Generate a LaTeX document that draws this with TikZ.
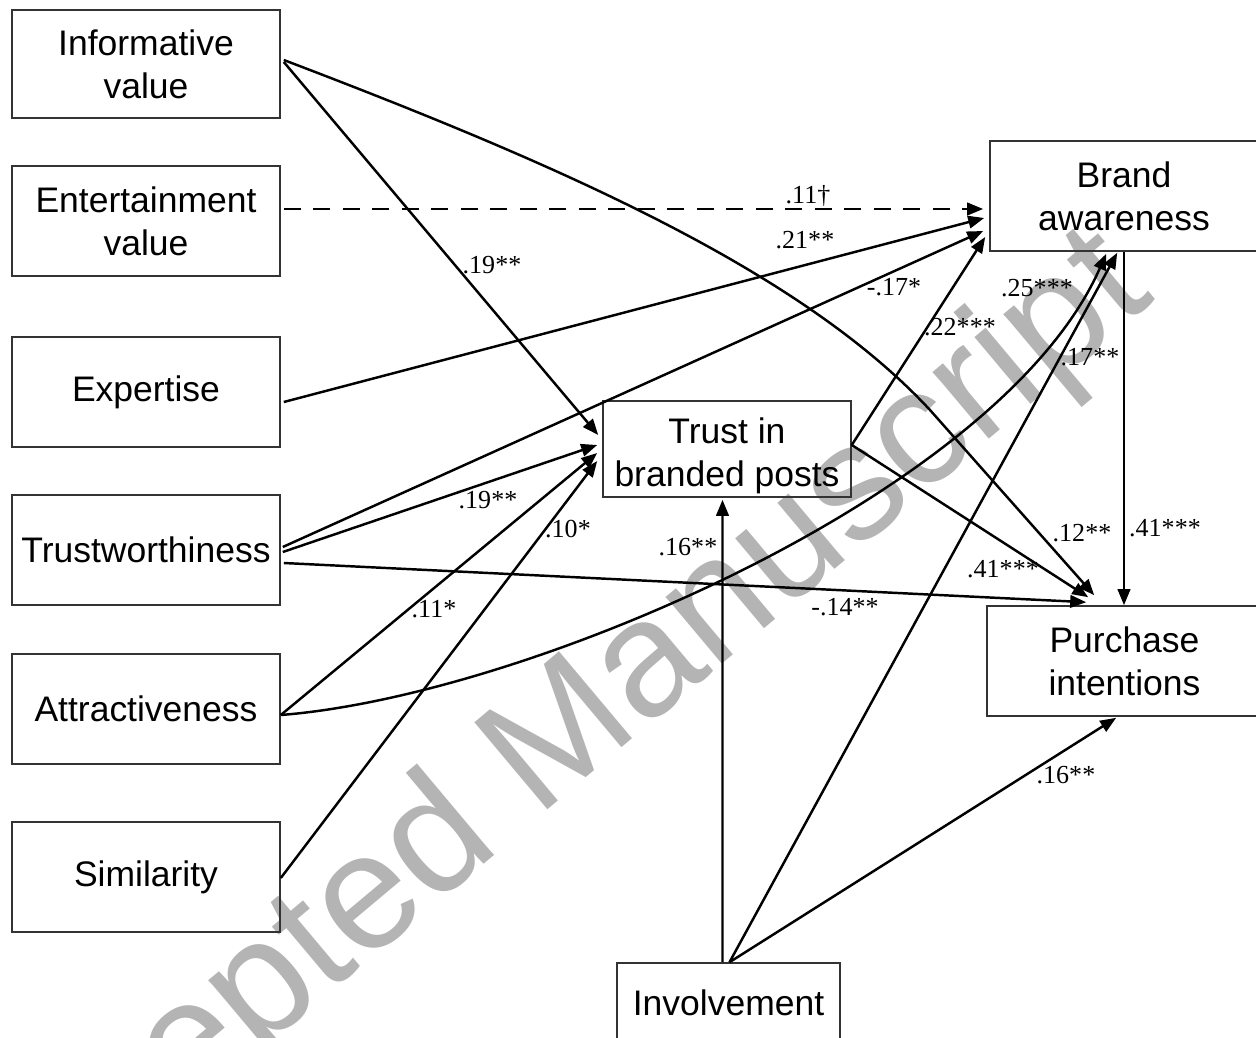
\documentclass[tikz,border=0pt]{standalone}
\usepackage{fontspec}
\setmainfont{Liberation Sans}
\newfontfamily\coeffont{Liberation Serif}
\usepackage{tikz}
\usetikzlibrary{calc,arrows.meta}
\definecolor{ink}{HTML}{000000}
\definecolor{boxline}{HTML}{333333}
\definecolor{wmgray}{HTML}{B4B4B4}
\tikzset{
  construct/.style={draw=boxline, line width=0.45pt, minimum width=26.8mm, minimum height=10.8mm,
    inner sep=0pt, align=center, font=\fontsize{10.1}{12.2}\selectfont},
  link/.style={draw=ink, line width=0.7pt, -{Triangle[length=1.6mm,width=1.25mm]}},
  weak/.style={link, dash pattern=on 1.7mm off 1.25mm},
  coef/.style={inner sep=0pt, font=\coeffont\fontsize{7.4}{8}\selectfont},
  wmark/.style={text=wmgray, inner sep=0pt, font=\fontsize{47}{47}\selectfont},
}
\begin{document}
\begin{tikzpicture}[x=0.1mm, y=-0.1mm]
\useasboundingbox (0,0) rectangle (1256,1038);
\clip (0,0) rectangle (1256,1038);

% watermark
\node[wmark, rotate=40, anchor=base] (wm) at (566,795) {Accepted Manuscript};

% antecedents
\node[construct] (info) at (146,64) {Informative\\value};
\node[construct, minimum height=11mm] (ent) at (146,221) {Entertainment\\value};
\node[construct, minimum height=11mm] (exp) at (146,392) {Expertise};
\node[construct, minimum height=11mm] (trw) at (146,550) {Trustworthiness};
\node[construct, minimum height=11mm] (att) at (146,709) {Attractiveness};
\node[construct, minimum height=11mm] (sim) at (146,877) {Similarity};

% mediator, outcomes, moderator
\node[construct, minimum width=24.8mm, minimum height=9.6mm] (trust) at (727,449)
  {\raisebox{-3.7mm}[0pt][0pt]{\begin{tabular}[b]{@{}c@{}}Trust in\\branded posts\end{tabular}}};
\node[construct, minimum height=11mm] (brand) at (1124,196) {Brand\\awareness};
\node[construct, minimum width=27.5mm, minimum height=11mm] (purch) at (1124.5,661) {Purchase\\intentions};
\node[construct, minimum width=22.3mm, minimum height=8mm] (inv) at (728.5,1003) {Involvement};

% paths into trust
\draw[link] ($(info.east)+(3,-2)$) -- ($(trust.west)+(-4,-14)$);
\draw[link] ($(trw.east)+(2,2)$) -- ($(trust.west)+(-5,-4)$);
\draw[link] ($(att.east)+(0,6)$) -- ($(trust.west)+(-5,4)$);
\draw[link] ($(sim.east)+(0,1)$) -- ($(trust.west)+(-5,12)$);
\draw[link] ($(inv.north)+(-6,0)$) -- ($(trust.south)+(-4.5,2)$);

% paths into brand awareness
\draw[weak] ($(ent.east)+(3,-12)$) -- ($(brand.west)+(-6,13)$);
\draw[link] ($(exp.east)+(3,10)$) -- ($(brand.west)+(-5,22)$);
\draw[link] ($(trw.east)+(2,-3)$) -- ($(brand.west)+(-6,35)$);
\draw[link] ($(trust.east)+(0,-4)$) -- ($(brand.west)+(-4,41)$);
\draw[link] ($(att.east)+(0,6)$) .. controls (526,696) and (1001,493) .. ($(brand.south west)+(117,2)$);
\draw[link] ($(inv.north)+(1,0)$) -- ($(brand.south west)+(128,1)$);

% paths into purchase intentions
\draw[link] ($(info.east)+(3,-4)$) .. controls (560,165) and (800,270) .. (930,410)
  -- ($(purch.north west)+(108,-10)$);
\draw[link] ($(trust.east)+(0,-4)$) -- ($(purch.north west)+(102,-8)$);
\draw[link] ($(trw.east)+(3,13)$) -- ($(purch.north west)+(100,-3)$);
\draw[link] ($(inv.north)+(1,0)$) -- ($(purch.south west)+(130,1)$);
\draw[link] (brand.south) -- (brand.south |- purch.north);

% coefficients
\foreach \x/\y/\t [count=\i] in {492/265/.19**, 1082/533/.12**, 808/196/.11†, 805/240/.21**,
  894/287/-.17*, 960/327/.22***, 1003/569/.41***, 488/500/.19**, 845/607/-.14**, 434/609/.11*,
  1037/288/.25***, 568/529/.10*, 688/547/.16**, 1090/357/.17**, 1066/775/.16**, 1165/528/.41***}{
  \node[coef] (coef\i) at (\x,\y) {\t};
}
\end{tikzpicture}
\end{document}
